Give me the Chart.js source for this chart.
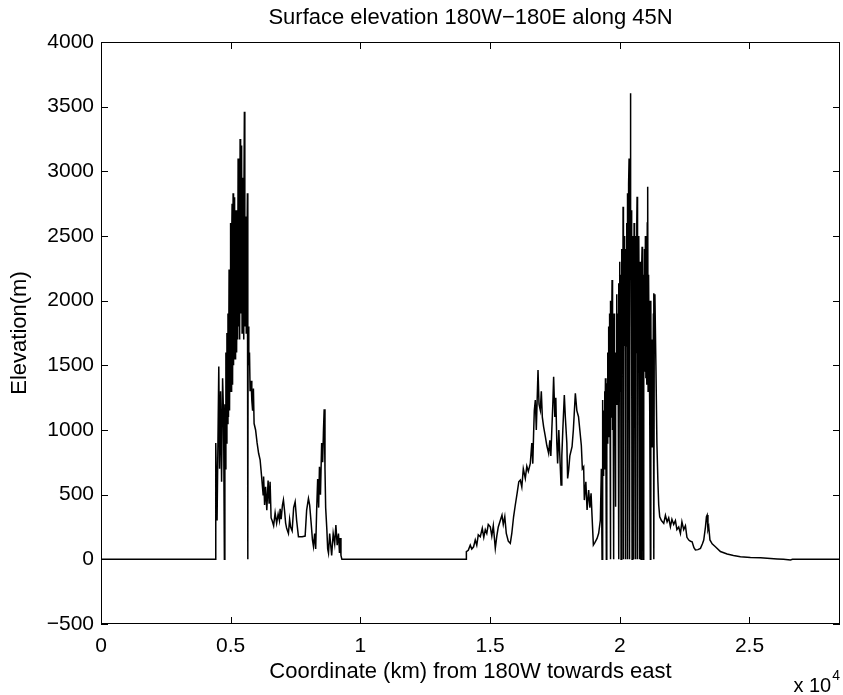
<!DOCTYPE html>
<html>
<head>
<meta charset="utf-8">
<script src="https://cdn.jsdelivr.net/npm/chart.js@4/dist/chart.umd.min.js"></script>
<style>
  html, body { margin: 0; padding: 0; background: #fff; }
  #wrap { width: 843px; height: 695px; position: relative; }
</style>
</head>
<body>
<div id="wrap"><canvas id="elev"></canvas></div>
<script>
// distance along 45N (km) and surface elevation (m)
const xMaxKm = 28490

// western mountains (first land crossing)
const westKm = [
  4398, 4425, 4475, 4541, 4572, 4610, 4649, 4688, 4726, 4757, 4776, 4795, 4815, 4835, 4855, 4875,
  4895, 4915, 4938, 4955, 4975, 4996, 5015, 5035, 5054, 5072, 5093, 5110, 5130, 5150, 5168, 5188,
  5208, 5228, 5247, 5266, 5286, 5305, 5324, 5344, 5363, 5382, 5401, 5420, 5440, 5460, 5478, 5495,
  5512, 5528, 5545, 5565, 5586, 5600, 5622, 5644, 5660, 5671, 5698, 5725, 5748, 5787, 5814, 5845,
  5876, 5902, 5960, 6018, 6076, 6134, 6192, 6250, 6269, 6307, 6346, 6392, 6442, 6481, 6519, 6558,
  6597, 6655, 6713, 6771, 6829, 6879, 6906, 6945, 6995, 7033, 7079, 7118, 7157, 7226, 7272, 7311,
  7369, 7427, 7485, 7542, 7612, 7677, 7755, 7870, 7928, 7998, 8044, 8102, 8152, 8191, 8237, 8276,
  8314, 8353, 8391, 8422, 8461, 8507, 8546, 8577, 8604, 8635, 8661, 8708, 8739, 8770, 8816, 8862,
  8893, 8951, 9009, 9055, 9105, 9155, 9194, 9220, 9251, 9286
]
const westElev = [
  0, 900, 300, 1490, 700, 1300, 600, 1400, 1100, 0, 1200, 700, 1600, 900, 1750, 1050,
  1900, 1100, 2240, 1150, 2100, 2600, 1300, 2400, 2750, 1350, 2830, 1500, 2500, 2800, 1550, 2600,
  2700, 1600, 2400, 1700, 3100, 1800, 2700, 1700, 3250, 1900, 2900, 3200, 1750, 2800, 2950, 1700,
  2600, 3460, 1800, 2500, 2650, 1750, 2300, 2830, 0, 1800, 1500, 1600, 1300, 1380, 1230, 1150,
  1320, 1050, 1000, 900, 820, 770, 640, 500, 640, 420, 560, 380, 610, 430, 600, 320,
  300, 260, 360, 280, 350, 300, 390, 310, 420, 460, 370, 280, 240, 200, 310, 250,
  220, 400, 445, 300, 175, 175, 175, 180, 380, 470, 420, 280, 150, 100, 200, 80,
  380, 620, 400, 716, 500, 900, 750, 1000, 1160, 700, 400, 226, 80, 48, 200, 97,
  30, 200, 120, 265, 110, 200, 50, 165, 30, 0
]

// eastern land crossing
const eastKm = [
  14082, 14086, 14159, 14236, 14294, 14364, 14429, 14487, 14545, 14622, 14699, 14757, 14815, 14873, 14930, 15008,
  15066, 15124, 15201, 15259, 15316, 15393, 15459, 15509, 15567, 15625, 15702, 15779, 15837, 15906, 15972, 16049,
  16107, 16165, 16223, 16281, 16358, 16416, 16474, 16551, 16609, 16647, 16678, 16705, 16744, 16782, 16848, 16886,
  16936, 16975, 17014, 17064, 17129, 17187, 17257, 17303, 17342, 17380, 17419, 17450, 17496, 17534, 17573, 17604,
  17650, 17689, 17735, 17766, 17804, 17862, 17901, 17959, 17990, 18029, 18075, 18160, 18210, 18287, 18345, 18409,
  18460, 18518, 18557, 18607, 18634, 18692, 18739, 18800, 18847, 18893, 18932, 18982, 19039, 19124, 19186, 19251,
  19290, 19317, 19340, 19358, 19376, 19394, 19412, 19430, 19448, 19466, 19482, 19500, 19518, 19536, 19554, 19572,
  19590, 19608, 19626, 19637, 19650, 19668, 19686, 19703, 19721, 19739, 19764, 19780, 19798, 19816, 19830, 19848,
  19866, 19884, 19902, 19920, 19940, 19958, 19962, 19980, 19998, 20016, 20034, 20050, 20066, 20084, 20102, 20118,
  20127, 20133, 20150, 20168, 20186, 20204, 20216, 20232, 20250, 20268, 20286, 20293, 20305, 20322, 20340, 20359,
  20370, 20382, 20395, 20409, 20425, 20440, 20458, 20474, 20490, 20508, 20525, 20536, 20552, 20570, 20588, 20602,
  20620, 20638, 20656, 20667, 20680, 20690, 20706, 20724, 20740, 20755, 20767, 20782, 20800, 20822, 20838, 20860,
  20876, 20898, 20915, 20933, 20951, 20969, 20988, 21006, 21024, 21042, 21060, 21076, 21092, 21110, 21128, 21146,
  21160, 21180, 21196, 21214, 21232, 21246, 21262, 21280, 21296, 21308, 21316, 21330, 21354, 21393, 21431, 21470,
  21501, 21540, 21605, 21695, 21760, 21824, 21886, 21952, 22010, 22079, 22145, 22202, 22272, 22338, 22396, 22465,
  22531, 22589, 22660, 22725, 22789, 22859, 22917, 23014, 23110, 23187, 23237, 23303, 23341, 23368, 23399, 23430,
  23476, 23561, 23686, 23879, 24139, 24382, 24652, 25038, 25424, 25810, 26068, 26312, 26581, 26658
]
const eastElev = [
  0, 60, 70, 110, 80, 97, 150, 110, 190, 175, 240, 170, 230, 200, 270, 252,
  180, 260, 85, 180, 250, 300, 342, 270, 330, 200, 140, 124, 200, 329, 420, 520,
  600, 613, 560, 700, 626, 720, 680, 742, 900, 740, 974, 1150, 1232, 1000, 1464, 1200,
  1154, 1300, 1100, 1025, 950, 880, 820, 920, 800, 1000, 1200, 1412, 1100, 1250, 900, 742,
  1000, 800, 574, 800, 1000, 1270, 1100, 900, 626, 690, 800, 871, 1000, 1284, 1150, 1103,
  1000, 880, 700, 716, 458, 600, 381, 536, 400, 510, 329, 111, 130, 162, 201, 304,
  700, 0, 1232, 650, 1150, 700, 1300, 800, 1400, 850, 0, 1361, 900, 1600, 950, 1800,
  1000, 1900, 1050, 0, 2000, 1100, 1700, 2160, 1000, 1800, 0, 1900, 950, 1600, 407, 1500,
  1200, 2050, 1250, 1900, 1300, 2134, 0, 1300, 2300, 1350, 2200, 0, 2400, 1500, 2100, 1550,
  2726, 0, 1600, 2500, 1650, 2400, 0, 2200, 1650, 2600, 1700, 2830, 0, 2000, 2900, 3100,
  1800, 0, 2600, 3603, 2200, 2700, 1800, 0, 2500, 1600, 2400, 0, 2600, 1700, 2300, 0,
  2500, 1600, 2600, 2804, 1500, 0, 2400, 1500, 2500, 1600, 0, 2300, 1500, 0, 2200, 2417,
  1450, 0, 2200, 1400, 2400, 1450, 2500, 1400, 2300, 1350, 2600, 2881, 1300, 2200, 1700, 2000,
  1200, 0, 2000, 1100, 1700, 871, 1500, 1100, 1900, 2057, 0, 1800, 2050, 1500, 900, 600,
  420, 329, 300, 278, 340, 290, 320, 252, 310, 270, 300, 230, 250, 200, 290, 230,
  260, 170, 149, 140, 136, 90, 72, 75, 85, 120, 149, 250, 330, 342, 230, 252,
  150, 120, 97, 60, 41, 30, 20, 15, 12, 6, 3, 0, -5, 0
]

const xTicks = [0, 5000, 10000, 15000, 20000, 25000]
const yTicks = [-500, 0, 500, 1000, 1500, 2000, 2500, 3000, 3500, 4000]

const points = [{ x: 0, y: 0 }]
westKm.forEach((k, i) => points.push({ x: k, y: westElev[i] }))
eastKm.forEach((k, i) => points.push({ x: k, y: eastElev[i] }))
points.push({ x: xMaxKm, y: 0 })

const FONT = 'Liberation Sans, Arial, Helvetica, sans-serif'
const minus = s => String(s).replace('-', '\u2212')

// inward ticks on all four sides, box, title and the x10^4 multiplier
const matlabFrame = {
  id: 'matlabFrame',
  afterDraw(chart) {
    const { ctx, chartArea: a, scales: { x, y } } = chart
    const TL = 7
    ctx.save()
    ctx.strokeStyle = '#000'
    ctx.lineWidth = 1
    ctx.strokeRect(Math.round(a.left) + 0.5, Math.round(a.top) + 0.5,
      Math.round(a.right - a.left) - 1, Math.round(a.bottom - a.top) - 1)
    ctx.beginPath()
    x.ticks.forEach(t => {
      const px = Math.round(x.getPixelForValue(t.value)) + 0.5
      ctx.moveTo(px, a.bottom); ctx.lineTo(px, a.bottom - TL)
      ctx.moveTo(px, a.top); ctx.lineTo(px, a.top + TL)
    })
    y.ticks.forEach(t => {
      const py = Math.round(y.getPixelForValue(t.value)) + 0.5
      ctx.moveTo(a.left, py); ctx.lineTo(a.left + TL, py)
      ctx.moveTo(a.right, py); ctx.lineTo(a.right - TL, py)
    })
    ctx.stroke()

    ctx.fillStyle = '#000'
    ctx.textAlign = 'center'
    ctx.textBaseline = 'middle'
    ctx.font = '22px ' + FONT
    ctx.fillText('Surface elevation 180W\u2212180E along 45N', (a.left + a.right) / 2, 18)

    ctx.textAlign = 'right'
    ctx.textBaseline = 'alphabetic'
    ctx.font = '14px ' + FONT
    ctx.fillText('4', a.right, 680)
    const w4 = ctx.measureText('4').width
    ctx.font = '20px ' + FONT
    ctx.fillText('x 10', a.right - w4 - 1, 692)
    ctx.restore()
  }
}

new Chart(document.getElementById('elev'), {
  type: 'line',
  data: {
    datasets: [{
      data: points,
      borderColor: '#000',
      borderWidth: 1.5,
      pointRadius: 0,
      tension: 0,
      fill: false
    }]
  },
  options: {
    responsive: true,
    maintainAspectRatio: false,
    animation: false,
    events: [],
    layout: { padding: { top: 42, right: 3, left: 0, bottom: 0 } },
    plugins: { legend: { display: false }, tooltip: { enabled: false } },
    scales: {
      x: {
        type: 'linear',
        min: 0,
        max: xMaxKm,
        afterBuildTicks: s => { s.ticks = xTicks.map(v => ({ value: v })) },
        afterFit: s => { s.height = 71 },
        grid: { display: false, drawTicks: false },
        border: { display: false },
        ticks: {
          padding: 10,
          maxRotation: 0,
          autoSkip: false,
          color: '#000',
          font: { family: FONT, size: 21 },
          callback: v => String(v / 1e4)
        },
        title: {
          display: true,
          text: 'Coordinate (km) from 180W towards east',
          color: '#000',
          font: { family: FONT, size: 22 },
          padding: { top: 0, bottom: 10 }
        }
      },
      y: {
        min: -500,
        max: 4000,
        afterBuildTicks: s => { s.ticks = yTicks.map(v => ({ value: v })) },
        afterFit: s => { s.width = 101 },
        grid: { display: false, drawTicks: false },
        border: { display: false },
        ticks: {
          padding: 7,
          autoSkip: false,
          color: '#000',
          font: { family: FONT, size: 21 },
          callback: v => minus(v)
        },
        title: {
          display: true,
          text: 'Elevation(m)',
          color: '#000',
          font: { family: FONT, size: 22 },
          padding: { top: 7, bottom: 0 }
        }
      }
    }
  },
  plugins: [matlabFrame]
})
</script>
</body>
</html>
